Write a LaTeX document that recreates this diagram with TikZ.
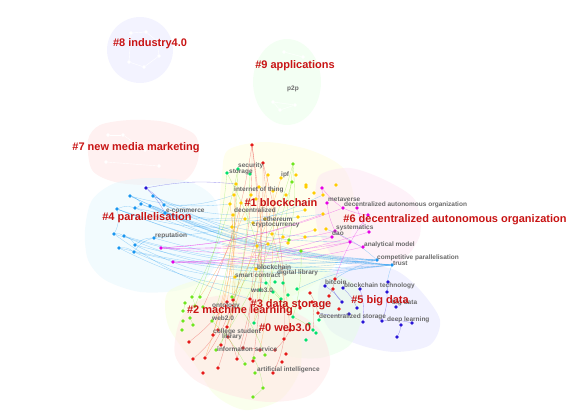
\documentclass[tikz,border=0pt]{standalone}
\usepackage{fontspec}
\setmainfont{Liberation Sans}
\usepackage{tikz}
\usetikzlibrary{positioning, backgrounds}
\definecolor{corWeb}{RGB}{230, 25, 25}
\definecolor{corChain}{RGB}{255, 205, 0}
\definecolor{corLearn}{RGB}{110, 230, 30}
\definecolor{corStore}{RGB}{0, 225, 110}
\definecolor{corPar}{RGB}{25, 150, 240}
\definecolor{corBig}{RGB}{40, 20, 215}
\definecolor{corDao}{RGB}{230, 0, 230}
\definecolor{corLabel}{RGB}{200, 20, 20}
\definecolor{corTerm}{RGB}{105, 105, 105}

\begin{document}
\begin{tikzpicture}[
    x=1pt, y=-1pt,
    dot/.style={circle, inner sep=0pt, minimum size=3.6pt},
    clab/.style={font=\bfseries\fontsize{11}{11}\selectfont, text=corLabel, inner sep=0pt, anchor=base},
    kw/.style={font=\bfseries\fontsize{6.5}{7}\selectfont, text=corTerm, inner sep=0pt, anchor=base west},
    link/.style={line width=0.35pt, draw opacity=0.4},
    blob/.style={draw=none, fill opacity=0.5}
]
\useasboundingbox (0,0) rectangle (572,413);

% cluster areas
\begin{scope}[on background layer]
\fill[blob, fill=blue!9] (140,50) ellipse (33 and 33);
\fill[blob, fill=green!9] (287,82) ellipse (34 and 43);
\fill[blob, fill=red!11] plot[smooth cycle] coordinates {(88,140) (100,125) (130,120) (165,122) (195,135) (198,160) (185,180) (150,185) (115,182) (92,170)};
\fill[blob, fill=cyan!10] plot[smooth cycle] coordinates {(85,230) (92,200) (115,183) (150,178) (190,182) (215,200) (220,240) (210,275) (180,290) (140,292) (105,280) (88,260)};
\fill[blob, fill=yellow!14] plot[smooth cycle] coordinates {(228,150) (265,142) (310,150) (345,170) (355,210) (345,250) (320,280) (280,300) (245,290) (225,260) (220,210) (222,175)};
\fill[blob, fill=magenta!10] plot[smooth cycle] coordinates {(320,175) (350,168) (385,180) (415,200) (420,235) (400,262) (365,268) (335,258) (318,230) (315,200)};
\fill[blob, fill=blue!11] plot[smooth cycle] coordinates {(325,275) (360,265) (395,270) (420,290) (440,320) (430,345) (395,352) (360,345) (330,330) (318,300)};
\fill[blob, fill=green!10] plot[smooth cycle] coordinates {(235,270) (275,262) (320,268) (355,285) (362,315) (350,345) (320,358) (285,355) (255,335) (235,305)};
\fill[blob, fill=lime!14] plot[smooth cycle] coordinates {(170,290) (200,280) (240,282) (290,295) (300,330) (300,370) (280,400) (245,410) (215,395) (195,365) (170,330) (165,305)};
\fill[blob, fill=red!10] plot[smooth cycle] coordinates {(180,320) (200,300) (240,295) (290,310) (320,330) (330,365) (310,395) (270,402) (230,395) (195,380) (175,355)};
\end{scope}

% keyword dots
\foreach \n/\x/\y in {1/252/145, 2/263/163, 3/335/279, 4/310/293, 5/333/289, 6/329/296, 7/312/302, 8/339/309, 9/318/313, 10/227/302, 11/233/300, 12/250/299, 13/218/330, 14/213/335, 15/227/327, 16/228/337, 17/189/342, 18/290/330, 19/284/339, 20/193/359, 21/205/358, 22/218/368, 23/203/373, 24/237/359, 25/253/361, 26/243/348, 27/260/350, 28/275/350, 29/286/354, 30/273/373, 31/221/345, 32/282/362, 33/300/308}
    \node[dot, fill=corWeb] (a\n) at (\x,\y) {};
\foreach \n/\x/\y in {1/268/175, 2/296/175, 3/281/178, 4/236/184, 5/259/187, 6/273/191, 7/286/195, 8/306/187, 9/234/195, 10/251/195, 11/314/193, 12/323/195, 13/230/204, 14/256/199, 15/241/203, 16/233/215, 17/245/219, 18/265/219, 19/253/223, 20/298/217, 21/305/210, 22/315/230, 23/326/229, 24/232/227, 25/272/234, 26/283/237, 27/305/237, 28/257/246, 29/268/244, 30/288/243, 31/323/214, 32/256/269, 33/235/277, 34/336/185, 35/306/185}
    \node[dot, fill=corChain] (y\n) at (\x,\y) {};
\foreach \n/\x/\y in {1/293/164, 2/292/182, 3/289/240, 4/301/251, 5/192/297, 6/200/297, 7/185/303, 8/195/306, 9/203/307, 10/183/311, 11/232/297, 12/190/318, 13/212/321, 14/183/321, 15/193/325, 16/182/330, 17/216/350, 18/245/364, 19/254/358, 20/265/355, 21/255/373, 22/263/388, 23/253/397}
    \node[dot, fill=corLearn] (g\n) at (\x,\y) {};
\foreach \n/\x/\y in {1/227/173, 2/238/169, 3/250/174, 4/266/283, 5/275/282, 6/283/283, 7/260/290, 8/273/292, 9/281/299, 10/288/295, 11/297/289, 12/293/317, 13/254/323, 14/313/330, 15/306/340, 16/309/324, 17/319/320, 18/316/333}
    \node[dot, fill=corStore] (s\n) at (\x,\y) {};
\foreach \n/\x/\y in {1/130/196, 2/153/196, 3/141/204, 4/150/206, 5/135/208, 6/164/205, 7/117/209, 8/114/234, 9/124/236, 10/135/245, 11/119/248, 12/134/252, 13/154/238, 14/165/213, 15/377/260, 16/392/265}
    \node[dot, fill=corPar] (b\n) at (\x,\y) {};
\foreach \n/\x/\y in {1/146/188, 2/388/282, 3/325/286, 4/343/288, 5/360/289, 6/387/292, 7/342/302, 8/357/308, 9/349/314, 10/363/322, 11/382/321, 12/401/325, 13/412/323, 14/397/337, 15/396/307}
    \node[dot, fill=corBig] (v\n) at (\x,\y) {};
\foreach \n/\x/\y in {1/322/188, 2/327/203, 3/343/208, 4/357/208, 5/368/215, 6/335/231, 7/332/237, 8/369/232, 9/350/242, 10/363/247, 11/161/248, 12/173/262}
    \node[dot, fill=corDao] (m\n) at (\x,\y) {};
\foreach \n/\x/\y in {1/131/33, 2/146/32, 3/157/41, 4/129/62, 5/144/67, 6/159/56, 7/284/52, 8/303/57, 9/273/102, 10/280/110, 11/295/105, 12/108/135, 13/123/135, 14/106/162, 15/159/166, 16/145/150}
    \node[dot, fill=white] (w\n) at (\x,\y) {};

% co-occurrence links
\begin{scope}[on background layer]
\foreach \a/\b in {b1/b15, b2/b16, b3/b15, b4/b16, b5/b15, b6/b16, b7/b15, b8/b16, b9/b15, b10/b16, b11/b15, b12/b16, b13/b15, b14/b16, b1/y13, b7/y24, b8/a12, b10/s4, b12/y33, b6/y9, b15/v3, b16/v6, b15/y23, b16/s11, b2/y16, b4/y28, b5/y31, b3/m9, b9/y32, b11/s7, b13/y12, b14/y21, b6/m7, b7/b16, b1/b16}
    \draw[link, corPar] (\a) to[bend right=10] (\b);
\foreach \a/\b in {b2/b6, b1/b3, b3/b5, b8/b9, b9/b10, b11/b12, b10/b13, b7/b5, b4/b14, b12/b13, b7/b8}
    \draw[link, corPar] (\a) to[bend left=20] (\b);
\foreach \a/\b in {v1/b6, v1/y4, v1/b14}
    \draw[link, corBig] (\a) to[bend left=8] (\b);
\foreach \a/\b in {m11/m6, m11/m9, m12/m10, m12/m7, m11/y22, m12/m8, m1/m3, m2/m6, m3/m5, m4/m8, m6/m10, m1/y12, m5/a3, m11/m3, m12/m9, m11/y31}
    \draw[link, corDao] (\a) to[bend right=8] (\b);
\foreach \a/\b in {a1/a15, a1/a12, a2/a24, a2/s7, a10/a17, a11/a21, a13/a20, a15/a22, a16/a24, a18/a28, a19/a30, a12/a26, a26/a27, a4/a9, a3/a6, a7/s14, a1/g9, a2/a19, a1/a25}
    \draw[link, corWeb] (\a) to[bend left=8] (\b);
\foreach \a/\b in {y4/a13, y9/a10, y13/g11, y16/a14, y28/s7, y25/a18, y10/g6, y33/a16, y5/s13, y1/a15, y3/g11, y6/a27, y15/a21}
    \draw[link, orange] (\a) to[bend left=6] (\b);
\foreach \a/\b in {g1/g3, g1/a11, g2/g17, s1/g8, s2/g13, s3/a31, s1/s4, g4/s12, g11/g20, g13/g18, g5/g8, g7/g10, g12/g15, g19/g22, g22/g23, s4/s9, s8/s12, s12/s14, s2/g5, g1/s13}
    \draw[link, corLearn] (\a) to[bend left=8] (\b);
\foreach \a/\b in {v3/v7, v4/v8, v5/v10, v6/v11, v11/v13, v12/v14, v2/v6, v7/a5, v9/a9}
    \draw[link, corBig] (\a) to[bend left=10] (\b);
\foreach \a/\b in {w1/w2, w2/w3, w1/w4, w4/w5, w5/w6, w3/w6, w7/w8, w9/w10, w10/w11, w9/w11, w12/w13, w14/w15, w13/w16}
    \draw[white, line width=0.4pt] (\a) -- (\b);
\end{scope}

% keyword labels
\node[kw, anchor=base] (p2p) at (293,90) {p2p};
\node[kw] (security) at (238,167) {security};
\node[kw] (storage) at (229,173) {storage};
\node[kw] (ipf) at (281,176) {ipf};
\node[kw] (iot) at (234,191) {internet of thing};
\node[kw] (decent) at (234,212) {decentralized};
\node[kw] (ethereum) at (263,221) {ethereum};
\node[kw] (crypto) at (252,226) {cryptocurrency};
\node[kw] (metaverse) at (328,201) {metaverse};
\node[kw] (daoterm) at (344,206) {decentralized autonomous organization};
\node[kw] (systematics) at (336,229) {systematics};
\node[kw] (dao) at (332,235) {dao};
\node[kw] (analytical) at (364,246) {analytical model};
\node[kw] (competitive) at (377,259) {competitive parallelisation};
\node[kw] (trust) at (393,265) {trust};
\node[kw] (ecommerce) at (166,212) {e-commerce};
\node[kw] (reputation) at (155,237) {reputation};
\node[kw] (blockchain) at (257,269) {blockchain};
\node[kw] (smart) at (235,277) {smart contract};
\node[kw] (digital) at (277,274) {digital library};
\node[kw] (bitcoin) at (325,284) {bitcoin};
\node[kw] (bctech) at (344,287) {blockchain technology};
\node[kw] (bigdata) at (392,304) {big data};
\node[kw] (dstorage) at (319,318) {decentralized storage};
\node[kw] (deep) at (387,321) {deep learning};
\node[kw] (web3) at (251,292) {web3.0};
\node[kw] (ontology) at (212,307) {ontology};
\node[kw] (web2) at (212,320) {web2.0};
\node[kw] (college) at (213,333) {college student};
\node[kw] (library) at (222,338) {library};
\node[kw] (infoserv) at (217,351) {information service};
\node[kw] (ai) at (257,371) {artificial intelligence};

% cluster labels
\node[clab] (lab8) at (150,46) {\#8 industry4.0};
\node[clab] (lab9) at (295,68) {\#9 applications};
\node[clab] (lab7) at (136,150) {\#7 new media marketing};
\node[clab] (lab4) at (147,220) {\#4 parallelisation};
\node[clab] (lab1) at (281,206) {\#1 blockchain};
\node[clab] (lab6) at (455,222) {\#6 decentralized autonomous organization};
\node[clab] (lab5) at (380,303) {\#5 big data};
\node[clab] (lab3) at (291,307) {\#3 data storage};
\node[clab] (lab2) at (240,313) {\#2 machine learning};
\node[clab] (lab0) at (285,331) {\#0 web3.0};
\end{tikzpicture}
\end{document}
